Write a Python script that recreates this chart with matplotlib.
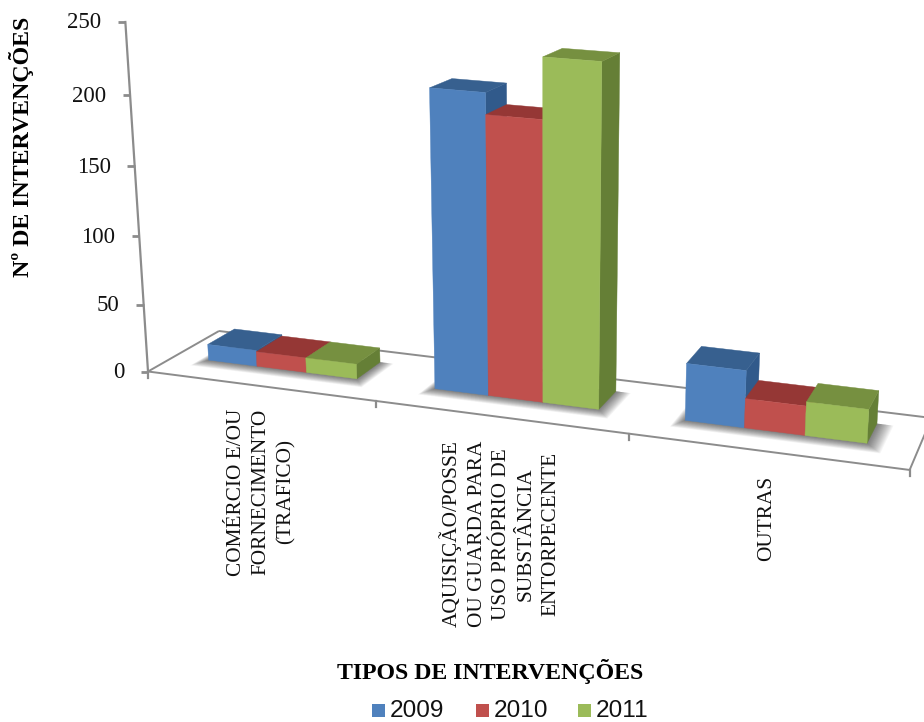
import matplotlib
matplotlib.use("Agg")
import matplotlib.pyplot as plt
from matplotlib.patches import Polygon, Rectangle
import numpy as np

categorias = ["COMÉRCIO E/OU\nFORNECIMENTO\n(TRAFICO)",
              "AQUISIÇÃO/POSSE\nOU GUARDA PARA\nUSO PRÓPRIO DE\nSUBSTÂNCIA\nENTORPECENTE",
              "OUTRAS"]
anos = ["2009", "2010", "2011"]
v2009 = [12, 215, 41]
v2010 = [11, 200, 21]
v2011 = [11, 242, 24]
ticks_y = [0, 50, 100, 150, 200, 250]

cores_frente = ["#4F81BD", "#C0504D", "#9BBB59"]
cores_topo = ["#37608F", "#953735", "#769040"]
cores_lado = ["#315A8B", "#8A3230", "#657F36"]
cinza = "#8C8C8C"

# cantos do piso do grafico em pixels: frente esq, frente dir, fundo dir, fundo esq
cantos = np.array([[148, 371.5], [910, 470], [932, 418], [219, 331]], float)
fuga_vertical = (545.0, 6500.0)
topo_eixo_y = 22.0


def montar_projecao():
    quad = [(0, 0), (3, 0), (3, 1), (0, 1)]
    A, b = [], []
    for (u, d), (x, y) in zip(quad, cantos):
        A.append([u, d, 1, 0, 0, 0, -u * x, -d * x])
        A.append([0, 0, 0, u, d, 1, -u * y, -d * y])
        b += [x, y]
    h = np.linalg.solve(np.array(A), np.array(b))
    w3 = (topo_eixo_y - h[5]) / (250 * (fuga_vertical[1] - topo_eixo_y))
    return h, w3


H, W3 = montar_projecao()


def proj(u, d, v=0):
    # categoria u (0 a 3), profundidade d (0 a 1), valor v -> pixel
    u = 0.951 * u / (1 - 0.0162 * u)  # categorias se abrem para a direita
    w = H[6] * u + H[7] * d + 1 + W3 * v
    x = H[0] * u + H[1] * d + H[2] + fuga_vertical[0] * W3 * v
    y = H[3] * u + H[4] * d + H[5] + fuga_vertical[1] * W3 * v
    return x / w, y / w


fig = plt.figure(figsize=(9.24, 7.22), dpi=100)
ax = fig.add_axes([0, 0, 1, 1])
ax.set_xlim(0, 924)
ax.set_ylim(722, 0)
ax.axis("off")

# piso
for p, q in [((0, 0), (3, 0)), ((3, 0), (3, 1)), ((3, 1), (0, 1)), ((0, 1), (0, 0))]:
    x0, y0 = proj(*p)
    x1, y1 = proj(*q)
    ax.plot([x0, x1], [y0, y1], color=cinza, lw=1.4, solid_capstyle="butt", zorder=1)
for i in range(4):
    x0, y0 = proj(i, 0)
    ax.plot([x0, x0], [y0, y0 + 6], color=cinza, lw=1.6, zorder=1)

# eixo de valores
x0, y0 = proj(0, 0, 0)
x1, y1 = proj(0, 0, 250)
ax.plot([x0, x1], [y0, y1], color=cinza, lw=1.6, zorder=1)
for t in ticks_y:
    x, y = proj(0, 0, t)
    ax.plot([x - 7.5, x], [y, y], color=cinza, lw=2, solid_capstyle="butt", zorder=1)
    ax.text(x - 24, y + 1, str(t), ha="right", va="center", fontsize=16.5,
            family="Liberation Serif", color="#111111")

# barras: largura e folga dentro de cada categoria
inicio = 0.155
larg = 0.222
d_f, d_b = 0.37, 0.76
series = [v2009, v2010, v2011]

for c in range(3):
    # sombra no piso, em camadas para sair suave
    u_a = c + inicio
    u_b = u_a + 3 * larg
    for k in range(1, 17):
        e = k / 16
        pts = [proj(u_a - 0.035 * e, d_f - 0.15 * e), proj(u_b + 0.06 * e, d_f - 0.15 * e),
               proj(u_b + 0.06 * e, d_b), proj(u_a - 0.035 * e, d_b)]
        ax.add_patch(Polygon(pts, closed=True, fc="black", ec="none", alpha=0.04, zorder=2))

    for s in range(3):
        v = series[s][c]
        u0 = c + inicio + s * larg
        u1 = u0 + larg
        lado = [proj(u1, d_f, 0), proj(u1, d_b, 0), proj(u1, d_b, v), proj(u1, d_f, v)]
        topo = [proj(u0, d_f, v), proj(u1, d_f, v), proj(u1, d_b, v), proj(u0, d_b, v)]
        frente = [proj(u0, d_f, 0), proj(u1, d_f, 0), proj(u1, d_f, v), proj(u0, d_f, v)]
        z = 3 + s
        ax.add_patch(Polygon(lado, closed=True, fc=cores_lado[s], ec=cores_lado[s], lw=0.3, zorder=z))
        ax.add_patch(Polygon(topo, closed=True, fc=cores_topo[s], ec=cores_topo[s], lw=0.3, zorder=z))
        ax.add_patch(Polygon(frente, closed=True, fc=cores_frente[s], ec=cores_frente[s], lw=0.3, zorder=z))

# rotulos das categorias
pos_rotulos = [(261, 492), (500, 534), (767, 518)]
for nome, (x, y) in zip(categorias, pos_rotulos):
    ax.text(x, y, nome, rotation=90, ha="center", va="center", multialignment="center",
            fontsize=15.3, family="Liberation Serif", linespacing=1.4, color="#111111")

ax.text(22, 147, "Nº DE INTERVENÇÕES", rotation=90, ha="center", va="center",
        fontsize=17.2, fontweight="bold", family="Liberation Serif", color="black")
ax.text(490, 672, "TIPOS DE INTERVENÇÕES", ha="center", va="center",
        fontsize=17.2, fontweight="bold", family="Liberation Serif", color="black")

# legenda
for ano, cor, xq in zip(anos, cores_frente, [372, 476, 578]):
    ax.add_patch(Rectangle((xq, 704), 13, 13, fc=cor, ec="none"))
    ax.text(xq + 18, 711, ano, ha="left", va="center", fontsize=17.6,
            family="Liberation Sans", color="#111111")

fig.savefig("out.png", dpi=100, facecolor="white")
